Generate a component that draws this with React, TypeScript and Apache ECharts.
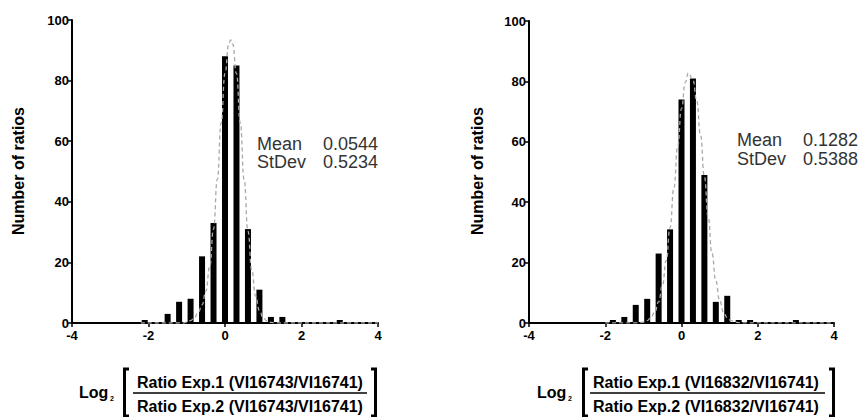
import React, { useEffect, useRef } from "react";
import * as echarts from "echarts";

// Histogram bins (log2 ratio bin centres) and counts
const leftBins = [-2.1, -1.5, -1.2, -0.9, -0.6, -0.3, 0, 0.3, 0.6, 0.9, 1.2, 1.5, 3.0];
const leftCounts = [1, 3, 7, 8, 22, 33, 88, 85, 31, 11, 2, 2, 1];
const rightBins = [-1.8, -1.5, -1.2, -0.9, -0.6, -0.3, 0, 0.3, 0.6, 0.9, 1.2, 1.5, 1.8, 3.0];
const rightCounts = [1, 2, 6, 8, 23, 31, 74, 81, 49, 7, 9, 1, 1, 1];

// Fitted curves
const leftFitX = [-2.2, -1.1, -1.0, -0.9, -0.8, -0.7, -0.6, -0.5, -0.4, -0.3, -0.2, -0.1, 0, 0.1, 0.15, 0.2, 0.3, 0.4, 0.5, 0.6, 0.7, 0.8, 0.9, 1.0, 1.1, 1.2, 1.3, 1.4, 4.0];
const leftFitY = [0, 0, 0.3, 0.8, 1.8, 3.5, 6.0, 10.5, 18.5, 31, 47.5, 66, 82.4, 92.1, 93.4, 92.1, 82.4, 66, 47.3, 30.3, 17.4, 8.9, 4.1, 1.7, 0.6, 0.2, 0.06, 0, 0];
const rightFitX = [-2.0, -1.2, -1.1, -1.0, -0.9, -0.8, -0.7, -0.6, -0.5, -0.4, -0.3, -0.2, -0.1, 0, 0.1, 0.18, 0.3, 0.4, 0.5, 0.6, 0.7, 0.8, 0.9, 1.0, 1.1, 1.2, 1.3, 1.4, 1.5, 1.6, 4.0];
const rightFitY = [0, 0.04, 0.12, 0.32, 0.8, 1.8, 3.6, 7.0, 12.5, 20.7, 31.6, 44.7, 58.5, 71.0, 79.7, 82.8, 80.5, 73.5, 62, 48.5, 35, 23, 14, 7.5, 3.6, 1.75, 0.78, 0.32, 0.12, 0.04, 0];

const xTicks = { min: -4, max: 4, interval: 2 };
const yTicks = { min: 0, max: 100, interval: 20 };

const leftStats = { mean: "0.0544", stdev: "0.5234" };
const rightStats = { mean: "0.1282", stdev: "0.5388" };
const leftLabel = { num: "Ratio Exp.1 (VI16743/VI16741)", den: "Ratio Exp.2 (VI16743/VI16741)" };
const rightLabel = { num: "Ratio Exp.1 (VI16832/VI16741)", den: "Ratio Exp.2 (VI16832/VI16741)" };

const FONT = "'Liberation Sans', Arial, Helvetica, sans-serif";

export default function App() {
  const ref = useRef<HTMLDivElement>(null);
  useEffect(() => {
    if (!ref.current) return;
    const chart = echarts.init(ref.current, undefined, { renderer: "svg" });

    const xAxis = (gridIndex: number) => ({
      type: "value",
      gridIndex,
      min: xTicks.min,
      max: xTicks.max,
      interval: xTicks.interval,
      axisLine: { show: true, onZero: false, lineStyle: { color: "#000", width: 2 } },
      axisTick: { show: true, length: 4, lineStyle: { color: "#000", width: 1.5 } },
      axisLabel: { color: "#000", fontWeight: "bold", fontSize: 13, fontFamily: FONT, margin: 6 },
      splitLine: { show: false },
    });
    const yAxis = (gridIndex: number) => ({
      type: "value",
      gridIndex,
      min: yTicks.min,
      max: yTicks.max,
      interval: yTicks.interval,
      axisLine: { show: true, onZero: false, lineStyle: { color: "#000", width: 2 } },
      axisTick: { show: true, length: 4, lineStyle: { color: "#000", width: 1.5 } },
      axisLabel: { color: "#000", fontWeight: "bold", fontSize: 13, fontFamily: FONT, margin: 3 },
      splitLine: { show: false },
    });
    const barSeries = (idx: number, bins: number[], counts: number[]) => ({
      type: "bar",
      xAxisIndex: idx,
      yAxisIndex: idx,
      data: bins.map((x, i) => [x, counts[i]]),
      barWidth: 6,
      itemStyle: { color: "#000" },
      z: 2,
    });
    const fitSeries = (idx: number, xs: number[], ys: number[]) => ({
      type: "line",
      xAxisIndex: idx,
      yAxisIndex: idx,
      data: xs.map((x, i) => [x, ys[i]]),
      showSymbol: false,
      symbol: "none",
      smooth: true,
      smoothMonotone: "x",
      lineStyle: { color: "#a8a8a8", width: 1.3, type: [4, 3] },
      z: 3,
    });

    const txt = (x: number, y: number, text: string, size: number, weight: string, align = "left", fill = "#000", lineHeight?: number) => ({
      type: "text",
      x,
      y,
      style: { text, fontSize: size, fontWeight: weight, fontFamily: FONT, fill, align, verticalAlign: "middle", lineHeight: lineHeight || Math.round(size * 1.2) },
    });
    const bracket = (pts: number[][]) => ({
      type: "polyline",
      shape: { points: pts },
      style: { stroke: "#000", lineWidth: 3, fill: "none" },
    });

    const panelGraphics = (
      logX: number, bL: number, bR: number, cx: number, lineL: number, lineR: number,
      label: { num: string; den: string }, statX: number, valX: number, statY: number,
      stats: { mean: string; stdev: string }, yTitleX: number
    ) => [
      {
        type: "text",
        x: yTitleX,
        y: 171,
        rotation: Math.PI / 2,
        style: { text: "Number of ratios", fontSize: 16, fontWeight: "bold", fontFamily: FONT, fill: "#000", align: "center", verticalAlign: "middle" },
      },
      txt(statX, statY, "Mean\nStDev", 18, "normal", "left", "#333", 18.5),
      txt(valX, statY, stats.mean + "\n" + stats.stdev, 18, "normal", "left", "#333", 18.5),
      txt(logX, 392, "Log", 16, "bold"),
      txt(logX + 31, 398, "2", 7, "bold"),
      bracket([[bL + 6, 369], [bL + 1.5, 369], [bL + 1.5, 416], [bL + 6, 416]]),
      bracket([[bR - 6, 369], [bR - 1.5, 369], [bR - 1.5, 416], [bR - 6, 416]]),
      txt(cx, 382, label.num, 16, "bold", "center"),
      txt(cx, 406.5, label.den, 16, "bold", "center"),
      {
        type: "line",
        shape: { x1: lineL, y1: 393, x2: lineR, y2: 393 },
        style: { stroke: "#000", lineWidth: 1.5 },
      },
    ];

    chart.setOption({
      animation: false,
      grid: [
        { left: 72, top: 20, width: 306, height: 303 },
        { left: 529, top: 21, width: 305, height: 302 },
      ],
      xAxis: [xAxis(0), xAxis(1)],
      yAxis: [yAxis(0), yAxis(1)],
      series: [
        barSeries(0, leftBins, leftCounts),
        fitSeries(0, leftFitX, leftFitY),
        barSeries(1, rightBins, rightCounts),
        fitSeries(1, rightFitX, rightFitY),
      ],
      graphic: [
        ...panelGraphics(79, 123, 377, 250, 133, 367, leftLabel, 257, 323, 153, leftStats, 18),
        ...panelGraphics(537, 582, 835, 706, 590, 825, rightLabel, 737, 803, 149.5, rightStats, 477),
      ],
    });
    return () => chart.dispose();
  }, []);
  return <div ref={ref} style={{ position: "absolute", left: 0, top: 0, width: 859, height: 417 }} />;
}
